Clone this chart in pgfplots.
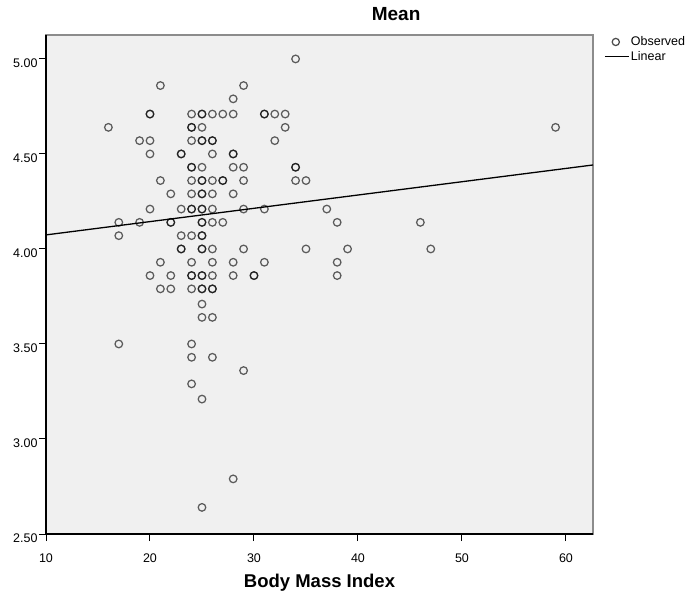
\documentclass[border=0pt]{standalone}
\usepackage{fontspec}
\setmainfont{Liberation Sans}
\usepackage{pgfplots}
\pgfplotsset{compat=1.18}

\definecolor{plotbg}{HTML}{F0F0F0}
\definecolor{frame}{HTML}{8C8C8C}

% BMI against mean score (bold circles = repeated cases)
\pgfplotstableread{
x  y
16 4.64
17 4.14
17 4.07
17 3.50
19 4.57
19 4.14
20 4.71
20 4.71
20 4.57
20 4.50
20 4.21
20 3.86
21 4.86
21 4.36
21 3.93
21 3.79
22 4.29
22 4.14
22 4.14
22 3.86
22 3.79
23 4.50
23 4.50
23 4.21
23 4.07
23 4.00
23 4.00
24 4.71
24 4.64
24 4.64
24 4.57
24 4.43
24 4.43
24 4.36
24 4.29
24 4.21
24 4.21
24 4.07
24 3.93
24 3.86
24 3.86
24 3.79
24 3.50
24 3.43
24 3.29
25 4.71
25 4.71
25 4.64
25 4.57
25 4.57
25 4.43
25 4.36
25 4.36
25 4.29
25 4.29
25 4.21
25 4.21
25 4.14
25 4.14
25 4.07
25 4.07
25 4.00
25 4.00
25 3.86
25 3.86
25 3.79
25 3.79
25 3.71
25 3.64
25 3.21
25 2.64
26 4.71
26 4.57
26 4.57
26 4.50
26 4.36
26 4.29
26 4.21
26 4.14
26 4.00
26 3.93
26 3.86
26 3.79
26 3.79
26 3.64
26 3.43
27 4.71
27 4.36
27 4.36
27 4.14
28 4.79
28 4.71
28 4.50
28 4.50
28 4.43
28 4.29
28 3.93
28 3.86
28 2.79
29 4.86
29 4.43
29 4.36
29 4.21
29 4.00
29 3.36
30 3.86
30 3.86
31 4.71
31 4.71
31 4.21
31 3.93
32 4.71
32 4.57
33 4.71
33 4.64
34 5.00
34 4.43
34 4.43
34 4.36
35 4.36
35 4.00
37 4.21
38 4.14
38 3.93
38 3.86
39 4.00
46 4.14
47 4.00
59 4.64
}\bmidata

\begin{document}
\begin{tikzpicture}
\useasboundingbox (0,0) rectangle (697bp,591bp);
\begin{axis}[
    at={(46bp,57bp)}, anchor=south west,
    scale only axis,
    width=547bp, height=499bp,
    xmin=10, xmax=62.6,
    ymin=2.5, ymax=5.126,
    axis background/.style={fill=plotbg},
    axis line style={draw=frame, line width=1.3bp},
    xtick={10,20,30,40,50,60},
    xticklabels={10,20,30,40,50,60},
    ytick={2.5,3,3.5,4,4.5,5},
    yticklabels={2.50,3.00,3.50,4.00,4.50,5.00},
    xtick pos=bottom, ytick pos=left,
    tick align=outside,
    major tick length=7bp,
    tick style={black, line width=1bp},
    ticklabel style={font=\fontsize{12.5bp}{14bp}\selectfont},
    xticklabel style={anchor=base, yshift=-21bp},
    yticklabel style={anchor=east, xshift=2bp, yshift=-4bp},
    title={Mean},
    title style={font=\fontsize{19bp}{22bp}\selectfont\bfseries,
        at={(axis description cs:0.64,1)}, anchor=base, yshift=9bp},
    xlabel={Body Mass Index},
    xlabel style={font=\fontsize{18.5bp}{22bp}\selectfont\bfseries,
        at={(axis description cs:0.5,0)}, anchor=base, yshift=-53bp},
    legend style={at={(axis description cs:1.02,1)}, anchor=north west,
        draw=none, fill=none, inner sep=0pt, row sep=1bp,
        font=\fontsize{12.5bp}{14bp}\selectfont,
        nodes={inner sep=1.5bp, anchor=west}},
    after end axis/.code={
        \draw[black, line width=1.3bp] (rel axis cs:0,1) -- (rel axis cs:0,0) -- (rel axis cs:1,0);
    },
]
\addplot[only marks, mark=o,
    mark size=3.8bp,
    mark options={draw=black, draw opacity=0.62, line width=1.25bp},
    legend image code/.code={
        \draw[black, draw opacity=0.7, line width=1.25bp] (11bp,0) circle (3.6bp);}
] table[x=x, y=y] {\bmidata};
\addlegendentry{Observed}

\addplot[black, line width=1.3bp,
    legend image code/.code={\draw[black, line width=1.3bp] (0,0) -- (24bp,0);}
] coordinates {(10,4.074) (62.6,4.442)};
\addlegendentry{Linear}
\end{axis}
\end{tikzpicture}
\end{document}
